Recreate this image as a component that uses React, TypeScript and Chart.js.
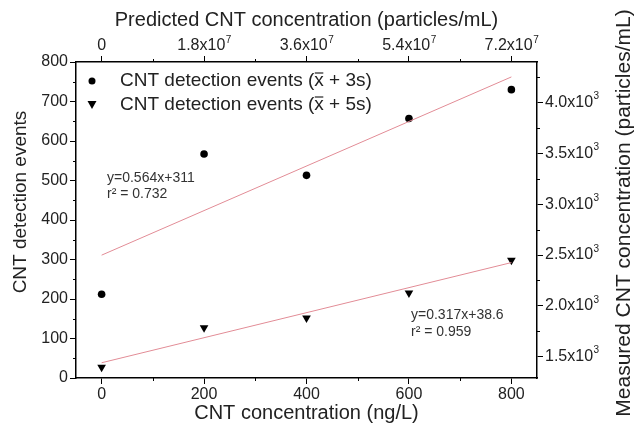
import React, { useEffect, useRef } from 'react';
import { Chart, registerables } from 'chart.js';
Chart.register(...registerables);

// ---- data ----
const concentrations = [0, 200, 400, 600, 800];
const events3s = [212, 567, 513, 657, 730];
const events5s = [27, 127, 152, 215, 298];
const fit3sX = [0, 800];
const fit3sY = [311, 762.2];
const fit5sX = [0, 800];
const fit5sY = [38.6, 292.2];

const bottomTicks = [0, 200, 400, 600, 800];
const bottomMinor = [100, 300, 500, 700];
const leftTicks = [0, 100, 200, 300, 400, 500, 600, 700, 800];
const leftMinor = [50, 150, 250, 350, 450, 550, 650, 750];
const topTickBase = ['0', '1.8x10', '3.6x10', '5.4x10', '7.2x10'];
const topTickExp = ['', '7', '7', '7', '7'];
const rightTicks = [1500, 2000, 2500, 3000, 3500, 4000];
const rightMinor = [1750, 2250, 2750, 3250, 3750, 4250];
const rightTickBase = ['1.5x10', '2.0x10', '2.5x10', '3.0x10', '3.5x10', '4.0x10'];
const rightTickExp = ['3', '3', '3', '3', '3', '3'];

const legendLabels = ['3s', '5s'];
const eq1 = ['y=0.564x+311', 'r² = 0.732'];
const eq2 = ['y=0.317x+38.6', 'r² = 0.959'];

const FONT = '"Liberation Sans", Arial, sans-serif';
const TXT = '#222';
const TICK_SIZE = 16;

const decor = {
  id: 'decor',
  afterDraw(chart: any) {
    const ctx = chart.ctx;
    const { left, right, top, bottom } = chart.chartArea;
    const sx = chart.scales.x, sx2 = chart.scales.x2, sy = chart.scales.y, sy2 = chart.scales.y2;
    ctx.save();
    ctx.strokeStyle = '#000';
    ctx.lineWidth = 1;
    // minor ticks
    const mt = 3;
    ctx.beginPath();
    bottomMinor.forEach(v => {
      const px = Math.round(sx.getPixelForValue(v)) + 0.5;
      ctx.moveTo(px, bottom); ctx.lineTo(px, bottom + mt);
      ctx.moveTo(px, top); ctx.lineTo(px, top - mt);
    });
    leftMinor.forEach(v => {
      const py = Math.round(sy.getPixelForValue(v)) + 0.5;
      ctx.moveTo(left, py); ctx.lineTo(left - mt, py);
    });
    rightMinor.forEach(v => {
      const py = Math.round(sy2.getPixelForValue(v)) + 0.5;
      ctx.moveTo(right, py); ctx.lineTo(right + mt, py);
    });
    ctx.stroke();

    ctx.fillStyle = TXT;
    ctx.textBaseline = 'middle';
    const baseFont = `${TICK_SIZE}px ${FONT}`;
    const supFont = `10px ${FONT}`;
    // top tick labels
    bottomTicks.forEach((v, i) => {
      const cx = sx2.getPixelForValue(v);
      ctx.font = baseFont;
      const wb = ctx.measureText(topTickBase[i]).width;
      ctx.font = supFont;
      const we = topTickExp[i] ? ctx.measureText(topTickExp[i]).width : 0;
      const x0 = cx - (wb + we) / 2;
      const y0 = top - 16;
      ctx.font = baseFont;
      ctx.textAlign = 'left';
      ctx.fillText(topTickBase[i], x0, y0);
      if (topTickExp[i]) {
        ctx.font = supFont;
        ctx.fillText(topTickExp[i], x0 + wb + 0.5, y0 - 6);
      }
    });
    // right tick labels
    rightTicks.forEach((v, i) => {
      const cy = sy2.getPixelForValue(v);
      const x0 = right + 8;
      ctx.font = baseFont;
      ctx.textAlign = 'left';
      ctx.fillText(rightTickBase[i], x0, cy);
      const wb = ctx.measureText(rightTickBase[i]).width;
      ctx.font = supFont;
      ctx.fillText(rightTickExp[i], x0 + wb + 0.5, cy - 6);
    });

    // titles
    ctx.font = `20px ${FONT}`;
    ctx.textAlign = 'center';
    ctx.fillText('Predicted CNT concentration (particles/mL)', (left + right) / 2, 20);
    ctx.fillText('CNT concentration (ng/L)', (left + right) / 2, 413);
    ctx.save();
    ctx.font = `19px ${FONT}`;
    ctx.translate(21, 202);
    ctx.rotate(-Math.PI / 2);
    ctx.fillText('CNT detection events', 0, 0);
    ctx.restore();
    ctx.save();
    ctx.font = `21px ${FONT}`;
    ctx.translate(624, 213);
    ctx.rotate(-Math.PI / 2);
    ctx.fillText('Measured CNT concentration (particles/mL)', 0, 0);
    ctx.restore();

    // legend
    const legY = [81, 105];
    const mx = 92;
    ctx.fillStyle = '#000';
    ctx.beginPath();
    ctx.arc(mx, legY[0], 3.5, 0, Math.PI * 2);
    ctx.fill();
    ctx.beginPath();
    ctx.moveTo(mx - 4.5, legY[1] - 4);
    ctx.lineTo(mx + 4.5, legY[1] - 4);
    ctx.lineTo(mx, legY[1] + 4);
    ctx.closePath();
    ctx.fill();
    ctx.fillStyle = TXT;
    ctx.font = `19px ${FONT}`;
    ctx.textAlign = 'left';
    legendLabels.forEach((lab, i) => {
      const y = legY[i];
      let x = 120;
      const p1 = 'CNT detection events (';
      ctx.fillText(p1, x, y);
      x += ctx.measureText(p1).width;
      ctx.fillText('x', x, y);
      const wx = ctx.measureText('x').width;
      ctx.save();
      ctx.strokeStyle = TXT;
      ctx.lineWidth = 1.2;
      ctx.beginPath();
      ctx.moveTo(x + 0.5, y - 8);
      ctx.lineTo(x + wx - 0.5, y - 8);
      ctx.stroke();
      ctx.restore();
      x += wx;
      ctx.fillText(' + ' + lab + ')', x, y);
    });

    // annotations
    ctx.font = `14px ${FONT}`;
    ctx.fillStyle = '#333';
    ctx.fillText(eq1[0], 107, 178);
    ctx.fillText(eq1[1], 107, 194);
    ctx.fillText(eq2[0], 411, 315);
    ctx.fillText(eq2[1], 411, 332);
    ctx.restore();
  },
};

export default function App() {
  const ref = useRef<HTMLCanvasElement>(null);
  useEffect(() => {
    if (!ref.current) return;
    const axisCommon = {
      grid: { display: true, drawOnChartArea: false, drawTicks: true, tickLength: 6, tickColor: '#000', tickWidth: 1, color: '#000' },
      border: { display: true, color: '#000', width: 1.5 },
    };
    const tickFont = { family: FONT, size: TICK_SIZE };
    const chart = new Chart(ref.current, {
      type: 'scatter',
      data: {
        datasets: [
          {
            label: 'fit3s',
            data: fit3sX.map((x, i) => ({ x, y: fit3sY[i] })),
            showLine: true,
            borderColor: 'rgb(226,140,150)',
            borderWidth: 1,
            pointRadius: 0,
            xAxisID: 'x', yAxisID: 'y',
          },
          {
            label: 'fit5s',
            data: fit5sX.map((x, i) => ({ x, y: fit5sY[i] })),
            showLine: true,
            borderColor: 'rgb(226,140,150)',
            borderWidth: 1,
            pointRadius: 0,
            xAxisID: 'x', yAxisID: 'y',
          },
          {
            label: 'CNT detection events (x̄ + 3s)',
            data: concentrations.map((x, i) => ({ x, y: events3s[i] })),
            pointStyle: 'circle',
            pointRadius: 3.8,
            backgroundColor: '#000',
            borderColor: '#000',
            borderWidth: 0,
            xAxisID: 'x', yAxisID: 'y',
          },
          {
            label: 'CNT detection events (x̄ + 5s)',
            data: concentrations.map((x, i) => ({ x, y: events5s[i] })),
            pointStyle: 'triangle',
            rotation: 180,
            pointRadius: 5,
            backgroundColor: '#000',
            borderColor: '#000',
            borderWidth: 0,
            xAxisID: 'x', yAxisID: 'y',
          },
        ],
      },
      options: {
        responsive: false,
        animation: false,
        layout: { padding: 0 },
        plugins: { legend: { display: false }, tooltip: { enabled: false } },
        scales: {
          x: {
            type: 'linear', position: 'bottom', min: -50, max: 850,
            afterBuildTicks: (s: any) => { s.ticks = bottomTicks.map(v => ({ value: v })); },
            ticks: { font: tickFont, color: TXT, padding: 1, maxRotation: 0, autoSkip: false },
            afterFit: (s: any) => { s.height = 51; },
            ...axisCommon,
          },
          x2: {
            type: 'linear', position: 'top', min: -50, max: 850,
            afterBuildTicks: (s: any) => { s.ticks = bottomTicks.map(v => ({ value: v })); },
            ticks: { font: tickFont, color: 'rgba(0,0,0,0)', padding: 2, maxRotation: 0, autoSkip: false },
            afterFit: (s: any) => { s.height = 62; },
            ...axisCommon,
          },
          y: {
            type: 'linear', position: 'left', min: 0, max: 800,
            afterBuildTicks: (s: any) => { s.ticks = leftTicks.map(v => ({ value: v })); },
            ticks: { font: tickFont, color: TXT, padding: 2, autoSkip: false },
            afterFit: (s: any) => { s.width = 76; },
            ...axisCommon,
          },
          y2: {
            type: 'linear', position: 'right', min: 1290, max: 4400,
            afterBuildTicks: (s: any) => { s.ticks = rightTicks.map(v => ({ value: v })); },
            ticks: { font: tickFont, color: 'rgba(0,0,0,0)', padding: 2, autoSkip: false },
            afterFit: (s: any) => { s.width = 102; },
            ...axisCommon,
          },
        },
      },
      plugins: [decor],
    } as any);
    return () => chart.destroy();
  }, []);
  return (
    <div style={{ position: 'absolute', left: 0, top: 0, width: 639, height: 429, background: '#fff' }}>
      <canvas ref={ref} width={639} height={429} style={{ display: 'block' }} />
    </div>
  );
}
